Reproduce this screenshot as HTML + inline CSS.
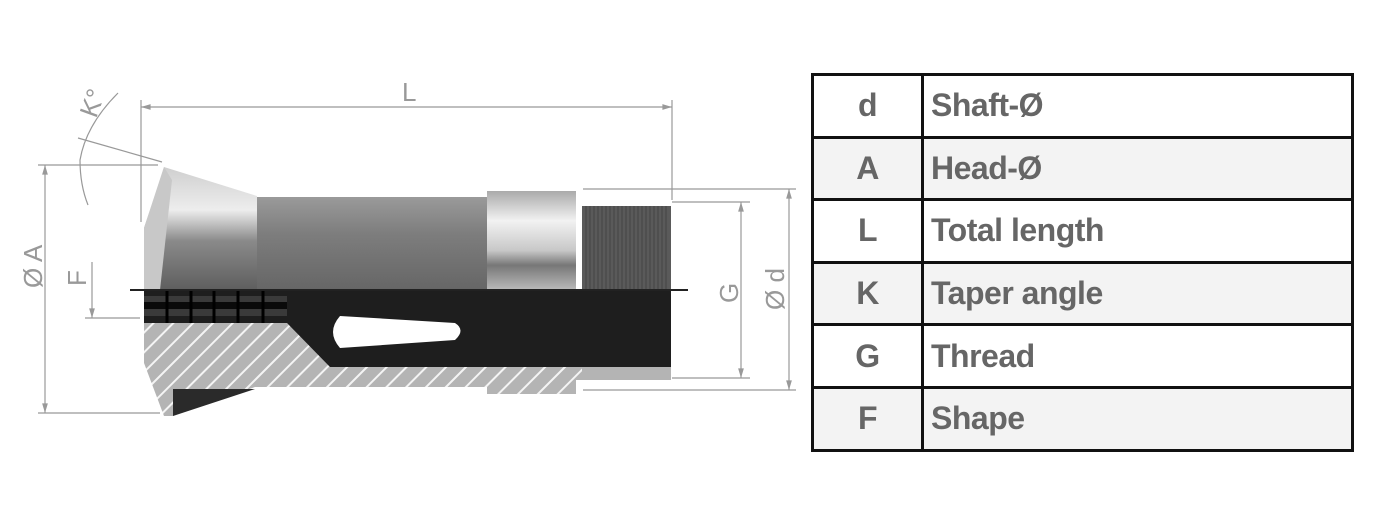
<!DOCTYPE html>
<html><head><style>
body{margin:0;width:1400px;height:523px;background:#fff;overflow:hidden;position:relative;font-family:"Liberation Sans",sans-serif}
table{position:absolute;left:811px;top:73px;border-collapse:collapse;width:543px;height:376px}
tr{height:62.6px}
td{border:3px solid #111;padding:0;color:#666;font-weight:bold;font-size:32px;letter-spacing:-0.5px}
td.k{width:107px;text-align:center}
td.v{padding-left:7px}
tr.g td{background:#f3f3f3}
</style></head><body>
<svg width="800" height="523" style="position:absolute;left:0;top:0">
<defs>
<pattern id="h" width="14" height="14" patternUnits="userSpaceOnUse" patternTransform="rotate(45)">
<rect width="14" height="14" fill="#b4b4b4"/><rect x="0" width="2" height="14" fill="#f4f4f4"/></pattern>
<linearGradient id="m" x1="0" y1="0" x2="0" y2="1">
<stop offset="0" stop-color="#9a9a9a"/><stop offset="0.4" stop-color="#7d7d7d"/><stop offset="1" stop-color="#666"/></linearGradient>
<linearGradient id="hd" x1="0" y1="0" x2="0" y2="1">
<stop offset="0" stop-color="#cfcfcf"/><stop offset="0.35" stop-color="#ededed"/><stop offset="0.6" stop-color="#8a8a8a"/><stop offset="1" stop-color="#5e5e5e"/></linearGradient>
<linearGradient id="rg" x1="0" y1="0" x2="0" y2="1">
<stop offset="0" stop-color="#aaa"/><stop offset="0.3" stop-color="#f2f2f2"/><stop offset="0.6" stop-color="#c8c8c8"/><stop offset="0.75" stop-color="#777"/><stop offset="1" stop-color="#bbb"/></linearGradient>
<marker id="a" viewBox="0 0 10 10" refX="10" refY="5" markerWidth="10" markerHeight="8" orient="auto-start-reverse"><path d="M0,2 L10,5 L0,8z" fill="#999"/></marker>
</defs>
<polygon points="164,167 257,196 257,290 144,290 144,228" fill="url(#hd)"/>
<polygon points="144,228 164,167 172,180 160,290 144,290" fill="#c8c8c8"/>
<rect x="257" y="197" width="230" height="93" fill="url(#m)"/>
<rect x="487" y="191" width="89" height="99" fill="url(#rg)"/>
<rect x="582" y="206" width="89" height="84" fill="#5a5a5a"/>
<g stroke="#444" stroke-width="1">
<path d="M586,206V290M590,206V290M594,206V290M598,206V290M602,206V290M606,206V290M610,206V290M614,206V290M618,206V290M622,206V290M626,206V290M630,206V290M634,206V290M638,206V290M642,206V290M646,206V290M650,206V290M654,206V290M658,206V290M662,206V290M666,206V290"/></g>
<polygon points="144,323 287,323 330,363 671,363 671,367 582,367 582,380 576,380 576,394 487,394 487,387 255,387 173,416 164,416 144,363" fill="url(#h)"/>
<rect x="582" y="367" width="89" height="13" fill="#b4b4b4"/>
<polygon points="144,290 671,290 671,367 330,367 287,323 144,323" fill="#1e1e1e"/>
<rect x="144" y="296" width="143" height="20" fill="#3a3a3a"/>
<rect x="144" y="302" width="143" height="7" fill="#0a0a0a"/>
<g stroke="#000" stroke-width="3"><path d="M167,290V323M191,290V323M214,290V323M238,290V323M263,290V323"/></g>
<path d="M340,316 L455,323 Q466,330 455,340 L340,348 Q326,332 340,316z" fill="#fff"/>
<polygon points="173,389 255,389 173,416" fill="#2a2a2a"/>
<line x1="130" y1="290" x2="688" y2="290" stroke="#222" stroke-width="2"/>
<g stroke="#999" stroke-width="1.2" fill="none">
<line x1="141" y1="100" x2="141" y2="222"/><line x1="672" y1="100" x2="672" y2="200"/>
<line x1="141" y1="107" x2="672" y2="107" marker-start="url(#a)" marker-end="url(#a)"/>
<line x1="38" y1="165" x2="158" y2="165"/><line x1="38" y1="413" x2="160" y2="413"/>
<line x1="45" y1="165" x2="45" y2="413" marker-start="url(#a)" marker-end="url(#a)"/>
<line x1="85" y1="318" x2="140" y2="318"/>
<line x1="92" y1="262" x2="92" y2="318" marker-end="url(#a)"/>
<line x1="672" y1="202" x2="750" y2="202"/><line x1="672" y1="378" x2="750" y2="378"/>
<line x1="741" y1="202" x2="741" y2="378" marker-start="url(#a)" marker-end="url(#a)"/>
<line x1="583" y1="189" x2="796" y2="189"/><line x1="583" y1="390" x2="796" y2="390"/>
<line x1="789" y1="189" x2="789" y2="390" marker-start="url(#a)" marker-end="url(#a)"/>
<line x1="78" y1="138" x2="162" y2="162"/>
<path d="M118,93 Q86,125 80,160 Q80,185 88,205"/>
</g>
<g fill="#999" font-size="26">
<text x="402" y="101">L</text>
<text transform="translate(42,288) rotate(-90)">Ø A</text>
<text transform="translate(86,286) rotate(-90)">F</text>
<text transform="translate(738,303) rotate(-90)">G</text>
<text transform="translate(784,310) rotate(-90)">Ø d</text>
<text transform="translate(96,119) rotate(-70)">K°</text>
</g>
</svg>
<table>
<tr><td class="k">d</td><td class="v">Shaft-Ø</td></tr>
<tr class="g"><td class="k">A</td><td class="v">Head-Ø</td></tr>
<tr><td class="k">L</td><td class="v">Total length</td></tr>
<tr class="g"><td class="k">K</td><td class="v">Taper angle</td></tr>
<tr><td class="k">G</td><td class="v">Thread</td></tr>
<tr class="g"><td class="k">F</td><td class="v">Shape</td></tr>
</table>
</body></html>
